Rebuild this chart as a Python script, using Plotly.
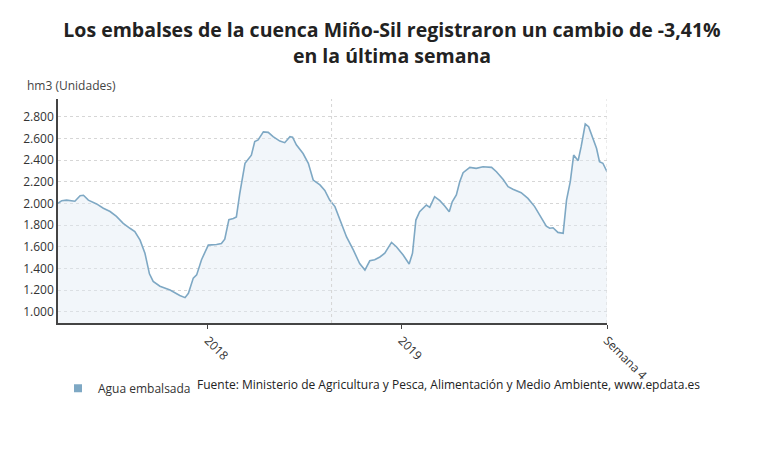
import plotly.graph_objects as go

# week index since start of series, reservoir volume in hm3
weeks = [0, 1, 2.3, 4.5, 5.9, 6.8, 8.1, 10.3, 12.1, 13.9, 15.6, 17.4, 19.2, 20.5, 21.9, 23.2,
         24.4, 25.4, 27.2, 29.9, 32.5, 33.9, 34.8, 36.1, 37, 38.3, 40.1, 42.3, 43.6, 44.5, 45.6,
         46.8, 47.6, 48.5, 49.9, 50.8, 51.6, 52.5, 53.4, 54.8, 56.1, 57.4, 59.2, 60.5, 61.9, 62.6,
         63.6, 65.4, 66.8, 68.1, 69.9, 71.2, 72.5, 73.9, 75.2, 77, 78.8, 80.5, 81.9, 83.2, 84.5,
         85.9, 87.2, 89, 90.3, 92.1, 93.7, 94.6, 95.5, 96.5, 98.3, 99.2, 100.5, 101.9, 103.2,
         104.4, 105.2, 106.3, 107.2, 108.1, 109.9, 111.6, 113.4, 115.7, 117, 118.8, 120.1, 121.4,
         123.6, 125.4, 127.2, 128.5, 130.3, 131.2, 132.1, 133.4, 134.8, 135.7, 136.7, 137.6,
         138.8, 139.6, 140.7, 141.6, 142.8, 143.7, 144.5, 145.4, 146.5]
agua = [2000, 2025, 2030, 2020, 2070, 2075, 2030, 1995, 1955, 1925, 1880, 1815, 1770, 1740, 1660,
        1540, 1350, 1280, 1235, 1200, 1150, 1130, 1170, 1310, 1340, 1480, 1615, 1620, 1630, 1670,
        1850, 1860, 1875, 2090, 2370, 2415, 2445, 2570, 2585, 2660, 2655, 2615, 2575, 2560, 2615,
        2610, 2540, 2460, 2370, 2215, 2170, 2120, 2030, 1970, 1845, 1690, 1570, 1445, 1385, 1470,
        1480, 1505, 1540, 1640, 1600, 1523, 1440, 1540, 1846, 1923, 1985, 1963, 2062, 2025, 1975,
        1923, 2015, 2077, 2200, 2283, 2332, 2323, 2338, 2332, 2292, 2220, 2154, 2130, 2098, 2046,
        1970, 1892, 1790, 1770, 1775, 1732, 1723, 2030, 2200, 2446, 2394, 2523, 2732, 2708, 2600,
        2508, 2385, 2370, 2292]

tick_pos = [40, 91.7, 146.5]
tick_text = ["2018", "2019", "Semana 4"]
y_ticks = [1000, 1200, 1400, 1600, 1800, 2000, 2200, 2400, 2600, 2800]
y_labels = ["1.000", "1.200", "1.400", "1.600", "1.800", "2.000", "2.200", "2.400", "2.600", "2.800"]

fig = go.Figure()
fig.add_trace(go.Scatter(
    x=weeks, y=agua, name="Agua embalsada", mode="lines", showlegend=False,
    line=dict(color="#7ea8c4", width=1.6),
    fill="tozeroy", fillcolor="rgba(226,236,244,0.45)",
))
# legend entry with a square swatch
fig.add_trace(go.Scatter(
    x=[None], y=[None], name="Agua embalsada", mode="markers",
    marker=dict(symbol="square", size=8, color="#7ea8c4"),
))

fig.update_layout(
    width=768, height=451,
    margin=dict(l=50, r=169, t=91, b=136),
    paper_bgcolor="white", plot_bgcolor="white",
    font=dict(family="Open Sans", color="#333", size=12),
    title=dict(
        text="<b>Los embalses de la cuenca Miño-Sil registraron un cambio de -3,41%<br>en la última semana</b>",
        x=0.5, xanchor="center", y=0.935, yanchor="top",
        font=dict(size=19.5, color="#222"),
    ),
    showlegend=True,
    legend=dict(orientation="h", x=0.0, xanchor="left", y=-0.227, yanchor="top",
                font=dict(size=12, color="#333"), itemwidth=30),
    xaxis=dict(
        range=[0, 146.5], tickvals=tick_pos, ticktext=tick_text, tickangle=45, automargin=False,
        showgrid=False, zeroline=False, showline=True, linecolor="#444", linewidth=1.5,
        ticks="outside", ticklen=4, tickcolor="#444",
    ),
    yaxis=dict(
        range=[896, 2963], tickvals=y_ticks, ticktext=y_labels, automargin=False,
        showgrid=True, gridcolor="#d6d6d6", griddash="dot", zeroline=False,
        showline=True, linecolor="#444", linewidth=1.5, ticks="",
    ),
    annotations=[
        dict(text="hm3 (Unidades)", xref="paper", yref="paper", x=-0.06, y=1.013,
             xanchor="left", yanchor="bottom", showarrow=False, font=dict(size=12, color="#444")),
        dict(text="Fuente: Ministerio de Agricultura y Pesca, Alimentación y Medio Ambiente, www.epdata.es",
             xref="paper", yref="paper", x=0.25, y=-0.227, xanchor="left", yanchor="top",
             showarrow=False, font=dict(size=12, color="#222")),
    ],
    shapes=[
        dict(type="line", xref="x", yref="paper", x0=73, x1=73, y0=0, y1=1,
             line=dict(color="#d6d6d6", width=1, dash="dot")),
        dict(type="line", xref="x", yref="paper", x0=146.5, x1=146.5, y0=0, y1=1,
             line=dict(color="#d6d6d6", width=1, dash="dot")),
    ],
)

fig.write_html("out.html")
